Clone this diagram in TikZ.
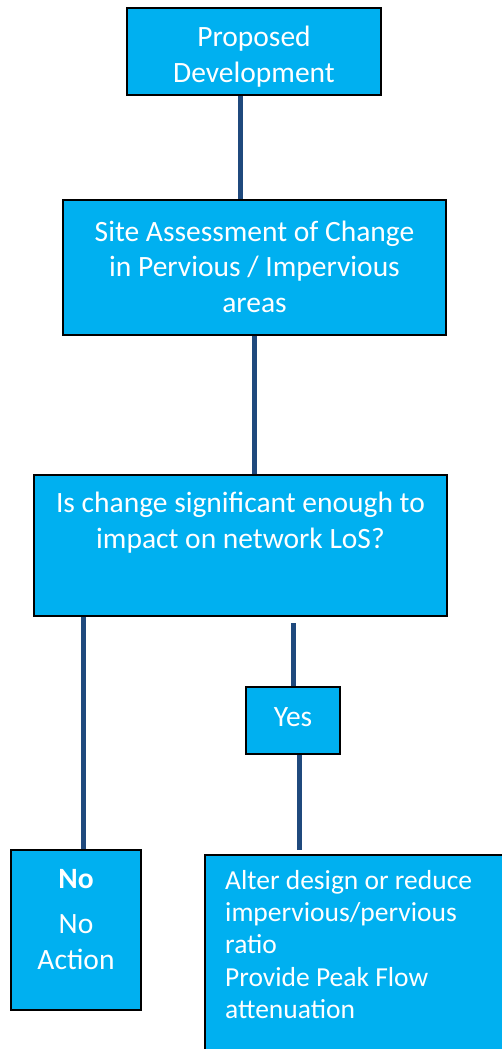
\documentclass[tikz,border=0pt]{standalone}
\usepackage{fontspec}
\setmainfont{Carlito}
\definecolor{boxblue}{HTML}{00B0F0}
\definecolor{linkblue}{HTML}{1F497D}
\begin{document}
\begin{tikzpicture}[x=1pt,y=-1pt,
  box/.style={draw=black,line width=1.8pt,fill=boxblue,rectangle,inner sep=0pt},
  txt/.style={text=white,font=\fontsize{29.5}{35.5}\selectfont,align=center,inner sep=0pt},
  link/.style={draw=linkblue,line width=5pt}]
\useasboundingbox (0,0) rectangle (502,1049);
\begin{scope}
\clip (0,0) rectangle (502,1049);
% boxes
\node[box,minimum width=254pt,minimum height=87pt] (b1) at (254,51.5) {};
\node[txt] (b1t) at ([yshift=-5]b1.center) {Proposed\\Development};
\node[box,minimum width=383pt,minimum height=135pt] (b2) at (254.5,267.5) {};
\node[txt] (b2t) at ([yshift=1]b2.center) {Site Assessment of Change\\in Pervious / Impervious\\areas};
\node[box,minimum width=413pt,minimum height=141pt] (b3) at (240.5,545.5) {};
\node[txt,anchor=north] (b3t) at ([yshift=-18]b3.north) {Is change significant enough to\\impact on network LoS?};
\node[box,minimum width=94pt,minimum height=67pt] (yes) at (293,720.5) {};
\node[txt] (yest) at ([yshift=3]yes.center) {Yes};
\node[box,minimum width=130pt,minimum height=160pt] (no) at (76,930) {};
\node[txt,anchor=north] (not) at ([yshift=-20]no.north) {\textbf{No}\\[10pt]No\\Action};
\node[box,minimum width=320pt,minimum height=220pt,anchor=north west] (alt) at (204,854) {};
\node[txt,anchor=north west,align=left,font=\fontsize{27.5}{32.3}\selectfont] (altt) at ([xshift=21,yshift=-16]alt.north west) {Alter design or reduce\\impervious/pervious\\ratio\\Provide Peak Flow\\attenuation};
% connectors
\coordinate (yt) at (293,623);
\coordinate (yb) at (299,850);
\draw[link] ([xshift=-13.5]b1.south) -- ([xshift=-13.5]b1.south |- b2.north);
\draw[link] (b2.south) -- (b2.south |- b3.north);
\draw[link] ([xshift=7]no.north |- b3.south) -- ([xshift=7]no.north);
\draw[link] (yt) -- (yes.north);
\draw[link] ([xshift=6]yes.south) -- (yb);
\end{scope}
\end{tikzpicture}
\end{document}
